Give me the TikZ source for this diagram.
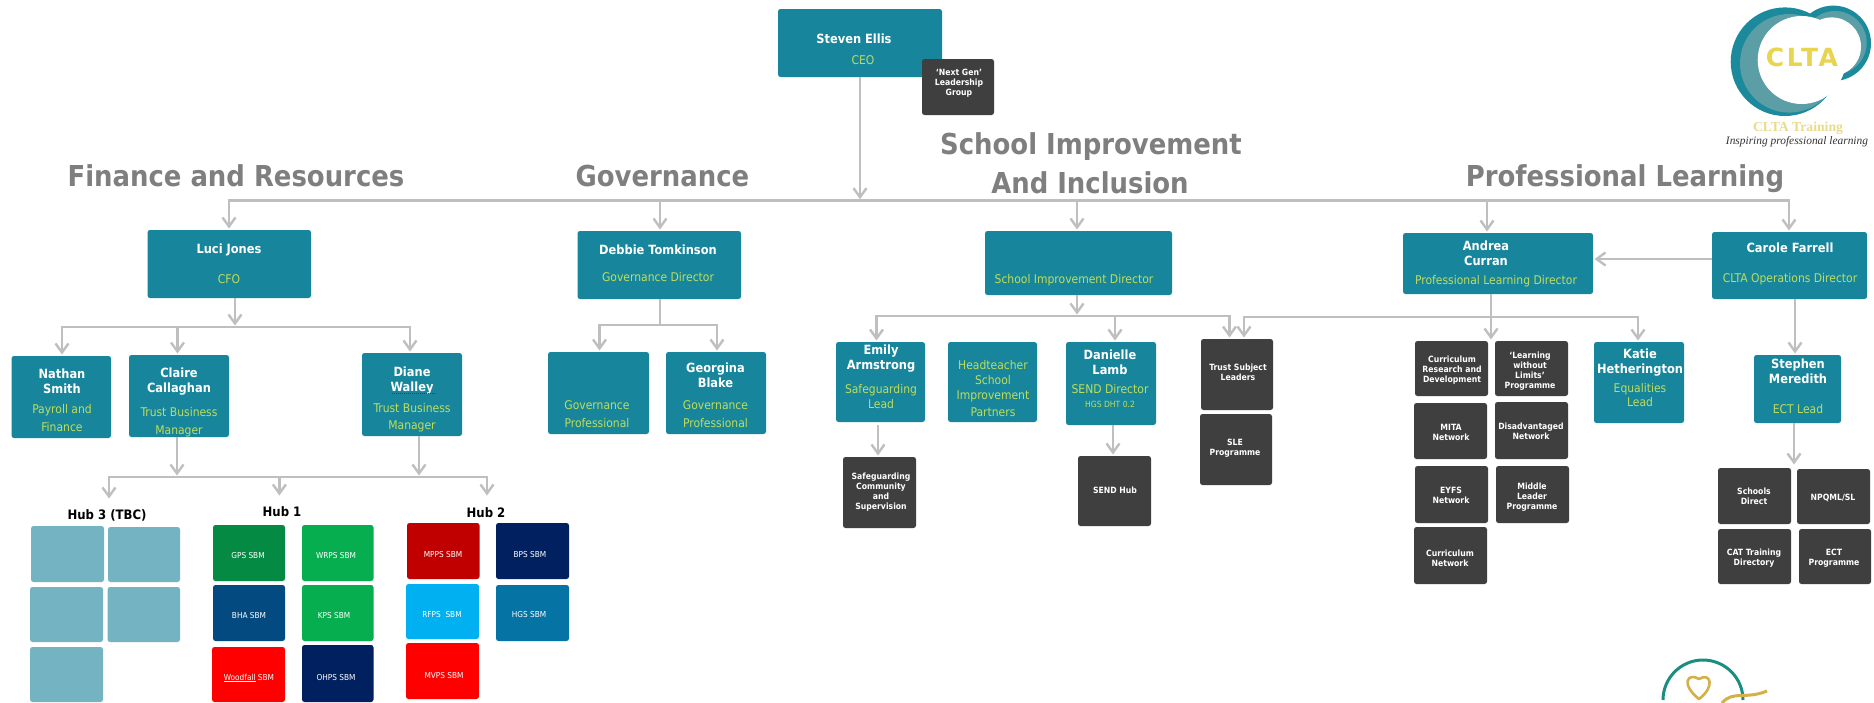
\documentclass[tikz,border=0pt]{standalone}
\usepackage{fontspec}
\setmainfont{DejaVu Sans Condensed}
\newfontfamily\logoserif{Liberation Serif}
\newfontfamily\logosans[LetterSpace=10]{DejaVu Sans}
\usetikzlibrary{arrows.meta}
\definecolor{teal1}{HTML}{17869C}
\definecolor{dark1}{HTML}{3F3F3F}
\definecolor{sub1}{HTML}{BFDD5C}
\definecolor{gray1}{HTML}{BFBFBF}
\definecolor{title1}{HTML}{7F7F7F}
\definecolor{hub3c}{HTML}{74B4C2}
\definecolor{gpsc}{HTML}{058A43}
\definecolor{grn}{HTML}{07AE4F}
\definecolor{bhac}{HTML}{034A80}
\definecolor{navyc}{HTML}{002060}
\definecolor{redc}{HTML}{FF0000}
\definecolor{mppc}{HTML}{C00000}
\definecolor{rfpc}{HTML}{00B0F0}
\definecolor{hgsc}{HTML}{0573A3}
\definecolor{logoT}{HTML}{1A8A9C}
\definecolor{logoL}{HTML}{5B9EA6}
\definecolor{logoY}{HTML}{E8D44D}
\definecolor{logoP}{HTML}{EADB8A}
\definecolor{gold1}{HTML}{D4B04A}
\definecolor{ringg}{HTML}{1A8F80}
\newcommand{\mkN}{\fontsize{12.7}{15}\selectfont\bfseries\color{white}}
\newcommand{\mkS}{\fontsize{12}{15}\selectfont\mdseries\color{sub1}}
\newcommand{\mkT}{\fontsize{8.5}{15}\selectfont\mdseries\color{sub1}}
\newcommand{\mkD}{\fontsize{8.6}{10.3}\selectfont\bfseries\color{white}}
\newcommand{\mkH}{\fontsize{8.2}{11}\selectfont\mdseries\color{white}}
\tikzset{
  boxbase/.style={rounded corners=2.5pt,inner sep=0pt,outer sep=0pt,draw=none},
  ln/.style={draw=gray1,line width=2.6pt},
  arr/.style={draw=gray1,line width=2.6pt,shorten >=1.5pt,-{Straight Barb[length=9pt,width=13pt,line width=2.4pt]}},
  titlenode/.style={anchor=base,inner sep=0pt,text=title1,font=\fontsize{28.8}{30}\selectfont\bfseries},
  hubnode/.style={anchor=base,inner sep=0pt,text=black,font=\fontsize{13}{15}\selectfont\bfseries},
}
% name x1 y1 x2 y2 colour textcx firstbaseline text
\newcommand{\bx}[9]{%
  \pgfmathsetmacro\bxcx{(#2+#4)/2}%
  \pgfmathsetmacro\bxcy{(#3+#5)/2}%
  \pgfmathsetmacro\bxw{#4-#2}%
  \pgfmathsetmacro\bxh{#5-#3}%
  \pgfmathsetmacro\bxdx{#7-\bxcx}%
  \pgfmathsetmacro\bxdy{\bxcy-#8}%
  \node[boxbase,fill=#6,minimum width=\bxw pt,minimum height=\bxh pt] (#1) at (\bxcx,\bxcy)
    {\hspace*{\bxdx pt}\makebox[0pt][c]{\raisebox{\bxdy pt}[0pt][0pt]{\parbox[t]{220pt}{\centering\leavevmode #9}}}\hspace*{-\bxdx pt}};%
}
\begin{document}
\begin{tikzpicture}[x=1pt,y=-1pt]
\useasboundingbox (0,0) rectangle (1874,702);
\fill[white] (0,0) rectangle (1874,702);

% titles
\node[titlenode] (tfin) at (236,186) {Finance and Resources};
\node[titlenode] (tgov) at (662.5,186.5) {Governance};
\node[titlenode] (tsch) at (1091,154) {School Improvement};
\node[titlenode] (tinc) at (1090,193) {And Inclusion};
\node[titlenode] (tpro) at (1625,186) {Professional Learning};

% top level boxes
\bx{ceo}{778}{9}{942}{77}{teal1}{854}{43}{\mkN Steven Ellis\\[6pt]\mkS\hspace*{18pt}CEO}
\bx{luci}{147.5}{230}{311}{298}{teal1}{229}{253}{\mkN Luci Jones\\[15pt]\mkS CFO}
\bx{debbie}{577.5}{231}{741}{299}{teal1}{658}{254}{\mkN Debbie Tomkinson\\[12pt]\mkS Governance Director}
\bx{sid}{985}{231}{1172}{295}{teal1}{1074}{283}{\mkS School Improvement Director}
\bx{andrea}{1403}{233}{1593}{294}{teal1}{1486}{250}{\mkN Andrea\\Curran\\[4pt]\mkS\hspace*{20pt}Professional Learning Director}
\bx{carole}{1712}{232}{1867}{299}{teal1}{1790}{252}{\mkN Carole Farrell\\[15pt]\mkS CLTA Operations Director}

% second level
\bx{nathan}{11.5}{356}{111}{438}{teal1}{62}{378}{\mkN Nathan\\Smith\\[5pt]\mkS Payroll and\\[3pt]Finance}
\bx{claire}{129}{355}{229}{437}{teal1}{179}{377}{\mkN Claire\\Callaghan\\[9pt]\mkS Trust Business\\[3pt]Manager}
\bx{diane}{362}{353}{462}{436}{teal1}{412}{376}{\mkN Diane\\Walley\\[6pt]\mkS Trust Business\\[2pt]Manager}
\bx{govp}{548}{352}{649}{434}{teal1}{597}{409}{\mkS Governance\\[3pt]Professional}
\bx{georgina}{666}{352}{766}{434}{teal1}{715.5}{372}{\mkN Georgina\\Blake\\[7pt]\mkS Governance\\[3pt]Professional}
\bx{emily}{836}{342}{925}{422}{teal1}{881}{354}{\mkN Emily\\Armstrong\\[9pt]\mkS Safeguarding\\Lead}
\bx{head}{948}{342}{1037}{422}{teal1}{993}{369}{\mkS Headteacher\\School\\Improvement\\[2pt]Partners}
\bx{danielle}{1066}{342}{1156}{425}{teal1}{1110}{359}{\mkN Danielle\\Lamb\\[4pt]\mkS SEND Director\\[-1pt]\mkT HGS DHT 0.2}
\bx{katie}{1594}{342}{1684}{423}{teal1}{1640}{358}{\mkN Katie\\Hetherington\\[4pt]\mkS Equalities\\[-1pt]Lead}
\bx{stephen}{1754}{355}{1841}{423}{teal1}{1798}{368}{\mkN Stephen\\Meredith\\[15pt]\mkS ECT Lead}

% dark boxes
\bx{nextgen}{922}{59}{994}{115}{dark1}{959}{75}{\mkD `Next Gen'\\Leadership\\Group}
\bx{safe}{843}{457}{916}{528}{dark1}{881}{479}{\mkD Safeguarding\\Community\\and\\Supervision}
\bx{sendh}{1078}{456}{1151}{526}{dark1}{1115}{493}{\mkD SEND Hub}
\bx{tsl}{1201}{339}{1273}{410}{dark1}{1238}{370}{\mkD Trust Subject\\Leaders}
\bx{sle}{1200}{414}{1272}{485}{dark1}{1235}{445}{\mkD SLE\\Programme}
\bx{crd}{1415}{341}{1488}{396}{dark1}{1452}{362}{\mkD Curriculum\\Research and\\Development}
\bx{lwl}{1495}{341}{1568}{396}{dark1}{1530}{358}{\mkD `Learning\\without\\Limits'\\Programme}
\bx{mita}{1414}{403}{1487}{459}{dark1}{1451}{430}{\mkD MITA\\Network}
\bx{disn}{1495}{402}{1568}{459}{dark1}{1531}{429}{\mkD Disadvantaged\\Network}
\bx{eyfs}{1415}{466}{1488}{523}{dark1}{1451}{493}{\mkD EYFS\\Network}
\bx{mid}{1496}{466}{1569}{523}{dark1}{1532}{489}{\mkD Middle\\Leader\\Programme}
\bx{curn}{1414}{527}{1487}{584}{dark1}{1450}{556}{\mkD Curriculum\\Network}
\bx{sdir}{1718}{468}{1791}{524}{dark1}{1754}{494}{\mkD Schools\\Direct}
\bx{npq}{1797}{469}{1870}{524}{dark1}{1833}{500}{\mkD NPQML/SL}
\bx{cat}{1718}{529}{1791}{584}{dark1}{1754}{555}{\mkD CAT Training\\Directory}
\bx{ectp}{1799}{529}{1871}{584}{dark1}{1834}{555}{\mkD ECT\\Programme}

% hubs
\node[hubnode] (hub3) at (107,519) {Hub 3 (TBC)};
\node[hubnode] (hub1) at (282,516) {Hub 1};
\node[hubnode] (hub2) at (486,517) {Hub 2};
\bx{ha}{31}{526}{104}{582}{hub3c}{67}{555}{}
\bx{hb}{108}{527}{180}{582}{hub3c}{144}{555}{}
\bx{hc}{30}{587}{103}{642}{hub3c}{66}{615}{}
\bx{hd}{107.5}{587}{180}{642}{hub3c}{144}{615}{}
\bx{he}{30}{647}{103}{702}{hub3c}{66}{675}{}
\bx{gps}{213}{525}{285}{581}{gpsc}{248}{558}{\mkH GPS SBM}
\bx{wrps}{302}{525}{373.5}{581}{grn}{336}{558}{\mkH WRPS SBM}
\bx{bha}{213}{585}{285}{641}{bhac}{249}{618}{\mkH BHA SBM}
\bx{kps}{302}{585}{373.5}{641}{grn}{334}{618}{\mkH KPS SBM}
\bx{wood}{212}{647}{285}{702}{redc}{249}{680}{\mkH \underline{Woodfall} SBM}
\bx{ohps}{302}{645}{373.5}{702}{navyc}{336}{680}{\mkH OHPS SBM}
\bx{mpps}{407}{523}{479.5}{579}{mppc}{443}{557}{\mkH MPPS SBM}
\bx{bps}{496}{523}{569}{579}{navyc}{530}{557}{\mkH BPS SBM}
\bx{rfps}{406}{584}{479}{639}{rfpc}{442}{617}{\mkH RFPS\ \ SBM}
\bx{hgs}{496}{585}{569}{641}{hgsc}{529}{617}{\mkH HGS SBM}
\bx{mvps}{406}{643}{479}{699}{redc}{444}{678}{\mkH MVPS SBM}

% spell-check squiggle under Walley
\draw[red!80!black,line width=.7pt,dash pattern=on 1.2pt off .8pt] (392,393) -- (436,393);

% named junctions
\coordinate (bL) at (229,200.7);
\coordinate (bG) at (660,200.7);
\coordinate (bC) at (860,200.7);
\coordinate (bS) at (1077,200.7);
\coordinate (bA) at (1487,200.7);
\coordinate (bR) at (1789,200.7);
\draw[ln,line cap=rect] (bL) -- (bR);
\draw[arr] (bC |- ceo.south) -- (bC);
\draw[arr] (bL) -- (bL |- luci.north);
\draw[arr] (bG) -- (bG |- debbie.north);
\draw[arr] (bS) -- (bS |- sid.north);
\draw[arr] (bA) -- (bA |- andrea.north);
\draw[arr] (bR) -- (bR |- carole.north);
\draw[arr] (carole.west |- 0,259) -- (andrea.east |- 0,259);

% Finance
\coordinate (fT) at (235,327);
\coordinate (fN) at (62,327);
\coordinate (fC) at (177.5,327);
\coordinate (fD) at (410,327);
\draw[arr] (fT |- luci.south) -- (fT);
\draw[ln,line cap=rect] (fN) -- (fD);
\draw[arr] (fN) -- (fN |- nathan.north);
\draw[arr] (fC) -- (fC |- claire.north);
\draw[arr] (fD) -- (fD |- diane.north);

% Hubs
\coordinate (hL) at (109,477);
\coordinate (hM) at (279.4,477);
\coordinate (hR) at (487,477);
\coordinate (hC) at (177,477);
\coordinate (hD) at (419,477);
\draw[ln,line cap=rect] (hL) -- (hR);
\draw[arr] (hC |- claire.south) -- (hC);
\draw[arr] (hD |- diane.south) -- (hD);
\coordinate (hLe) at (109,500);
\coordinate (hMe) at (279.4,497);
\coordinate (hRe) at (487,497);
\draw[arr] (hL) -- (hLe);
\draw[arr] (hM) -- (hMe);
\draw[arr] (hR) -- (hRe);

% Governance
\coordinate (gT) at (660,325);
\coordinate (gL) at (599.5,325);
\coordinate (gR) at (717,325);
\draw[ln] (gT |- debbie.south) -- (gT);
\draw[ln,line cap=rect] (gL) -- (gR);
\draw[arr] (gL) -- (gL |- govp.north);
\draw[arr] (gR) -- (gR |- georgina.north);

% School improvement
\coordinate (sT) at (1077,316);
\coordinate (sE) at (876.5,316);
\coordinate (sD) at (1115,316);
\coordinate (sR) at (1229.5,316);
\draw[arr] (sT |- sid.south) -- (sT);
\draw[ln,line cap=rect] (sE) -- (sR);
\draw[arr] (sE) -- (sE |- emily.north);
\draw[arr] (sD) -- (sD |- danielle.north);
\draw[arr] (sR) -- (sR |- tsl.north);
\coordinate (eX) at (878,425);
\coordinate (dX) at (1113,425);
\draw[arr] (eX) -- (eX |- safe.north);
\draw[arr] (dX) -- (dX |- sendh.north);

% Professional learning
\coordinate (pL) at (1244,317);
\coordinate (pK) at (1638,317);
\coordinate (pA) at (1491,317);
\draw[ln,line cap=rect] (pL) -- (pK);
\draw[arr] (pL) -- (pL |- tsl.north);
\draw[arr] (pK) -- (pK |- katie.north);
\draw[arr] (pA |- andrea.south) -- (pA |- crd.north);
\coordinate (cS) at (1795,299);
\coordinate (cT) at (1794,423);
\coordinate (cB) at (1794,466);
\draw[arr] (cS) -- (cS |- stephen.north);
\draw[arr] (cT) -- (cB);

% CLTA logo
\fill[logoT] (1785,61.7) circle (54.3pt);
\fill[logoT] (1833.3,43.3) circle (37.7pt);
\fill[logoL] (1835,42.7) circle (31.7pt);
\fill[white] (1831.7,46.7) circle (29.3pt);
\fill[logoL] (1789.3,63.3) circle (49.3pt);
\fill[white] (1801.7,60) circle (44pt);
\fill[white] (1833.3,50) circle (23.3pt);
\node[anchor=base,inner sep=0pt,text=logoY,font=\logosans\fontsize{25}{25}\selectfont\bfseries] (clta) at (1802,66) {CLTA};
\node[anchor=base,inner sep=0pt,text=logoP,font=\logoserif\fontsize{13.7}{14}\selectfont\bfseries] (cltat) at (1798,131) {CLTA Training};
\node[anchor=base,inner sep=0pt,text=black!80,font=\logoserif\fontsize{11.4}{12}\selectfont\itshape] (cltas) at (1797,144) {Inspiring professional learning};

% lower logo
\begin{scope}
  \clip (0,0) rectangle (1874,702);
  \draw[ringg,line width=3pt] (1663,700) arc[start angle=180,end angle=360,radius=40];
  \draw[gold1,line width=2.6pt,line join=round] (1699,699) .. controls (1680,684) and (1688,672) .. (1699,679) .. controls (1710,672) and (1716,686) .. cycle;
  \draw[gold1,line width=3pt] (1722,703) .. controls (1733,690) and (1745,700) .. (1767,691);
\end{scope}
\end{tikzpicture}
\end{document}
